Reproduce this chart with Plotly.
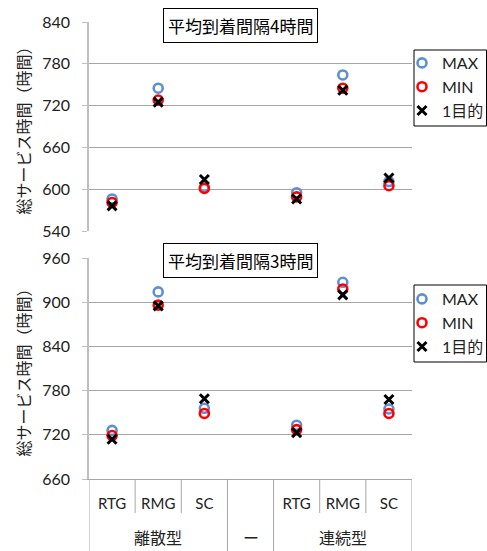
import plotly.graph_objects as go

# ---- data ----
subcats = ["RTG", "RMG", "SC", "", "RTG", "RMG", "SC"]
groups = ["離散型", "ー", "連続型"]
group_centers = [1, 3, 5]

top_max = [586, 745, 603, None, 595, 764, 611]
top_min = [581, 728, 601, None, 589, 745, 605]
top_obj = [576, 725, 614, None, 586, 742, 616]

bot_max = [726, 914, 756, None, 733, 927, 755]
bot_min = [719, 896, 749, None, 727, 918, 749]
bot_obj = [714, 895, 769, None, 723, 910, 768]

top_title = "平均到着間隔4時間"
bot_title = "平均到着間隔3時間"
y_title = "総サービス時間（時間）"
legend_names = ["MAX", "MIN", "1目的"]

W, H = 487, 551
FONT = "Lato, Noto Sans CJK JP, sans-serif"
CJK = "Noto Sans CJK JP, sans-serif"
x = list(range(len(subcats)))

def px(v):
    return v / W

def py(v):
    return 1 - v / H

fig = go.Figure()

styles = [
    dict(symbol="circle-open", size=9, color="#5B8FD6", line=dict(width=2.6, color="#5B8FD6")),
    dict(symbol="circle-open", size=9, color="#FF0000", line=dict(width=2.6, color="#FF0000")),
    dict(symbol="x-thin", size=9, color="#000000", line=dict(width=3, color="#000000")),
]

for vals, st, nm in zip([top_max, top_min, top_obj], styles, legend_names):
    fig.add_trace(go.Scatter(x=x, y=vals, mode="markers", marker=st, name=nm,
                             xaxis="x", yaxis="y", legend="legend"))
for vals, st, nm in zip([bot_max, bot_min, bot_obj], styles, legend_names):
    fig.add_trace(go.Scatter(x=x, y=vals, mode="markers", marker=st, name=nm,
                             xaxis="x2", yaxis="y2", legend="legend2"))

xdom = [px(89), px(412)]
grid = "#A6A6A6"
axc = "#BFBFBF"

yax_common = dict(
    dtick=60, showgrid=True, gridcolor=grid, gridwidth=1,
    showline=True, linecolor=axc, linewidth=1.5,
    ticks="outside", ticklen=5, tickcolor=axc,
    tickfont=dict(family=FONT, size=16, color="#222"),
    ticklabelstandoff=9, zeroline=False, automargin=False,
    title=dict(text=y_title, font=dict(family=CJK, size=16, color="#222"), standoff=8),
)

legend_common = dict(xanchor="left", yanchor="top", bgcolor="rgba(0,0,0,0)", borderwidth=0,
                     font=dict(family=FONT, size=16, color="#222"), itemwidth=30)

fig.update_layout(
    template="none",
    width=W, height=H,
    margin=dict(l=0, r=0, t=0, b=0, autoexpand=False),
    paper_bgcolor="white", plot_bgcolor="white",
    font=dict(family=FONT),
    xaxis=dict(domain=xdom, range=[-0.5, 6.5], anchor="y", showticklabels=False,
               showgrid=False, zeroline=False, showline=False, ticks="", automargin=False),
    yaxis=dict(domain=[py(231), py(22)], range=[540, 840], anchor="x", **yax_common),
    xaxis2=dict(domain=xdom, range=[-0.5, 6.5], anchor="y2", tickmode="array",
                tickvals=x, ticktext=subcats, showgrid=False, zeroline=False,
                showline=True, linecolor=grid, linewidth=1, ticks="", automargin=False,
                tickfont=dict(family=FONT, size=15, color="#222"), ticklabelstandoff=11),
    yaxis2=dict(domain=[py(479), py(258)], range=[660, 960], anchor="x2", **yax_common),
    legend=dict(x=px(402), y=py(46), **legend_common),
    legend2=dict(x=px(402), y=py(282), **legend_common),
)

shapes = []
for y0, y1 in [(50, 126), (285, 362)]:
    shapes.append(dict(type="rect", xref="paper", yref="paper", x0=px(414), x1=px(486.5),
                       y0=py(y1), y1=py(y0), line=dict(color="black", width=1),
                       fillcolor="white", layer="below"))
bounds = [i - 0.5 for i in range(len(subcats) + 1)]
group_bounds = {-0.5, 2.5, 3.5, 6.5}
for b in bounds:
    shapes.append(dict(type="line", xref="x2", yref="paper", x0=b, x1=b,
                       y0=py(479), y1=(py(551) if b in group_bounds else py(513)),
                       line=dict(color=grid, width=1)))
fig.update_layout(shapes=shapes)

ann = []
for t, yc in [(top_title, 25), (bot_title, 261)]:
    ann.append(dict(text=t, xref="paper", yref="paper", x=px(240.5), y=py(yc),
                    xanchor="center", yanchor="middle", showarrow=False,
                    font=dict(family=CJK, size=17, color="black"),
                    bgcolor="white", bordercolor="black", borderwidth=1, borderpad=4))
for g, c in zip(groups, group_centers):
    ann.append(dict(text=g, xref="x2", yref="paper", x=c, y=py(537),
                    xanchor="center", yanchor="middle", showarrow=False,
                    font=dict(family=CJK, size=16, color="#222")))
fig.update_layout(annotations=ann)

fig.write_html("out.html", config={"displayModeBar": False},
               post_script="document.body.style.margin='0';document.body.style.overflow='hidden';")
